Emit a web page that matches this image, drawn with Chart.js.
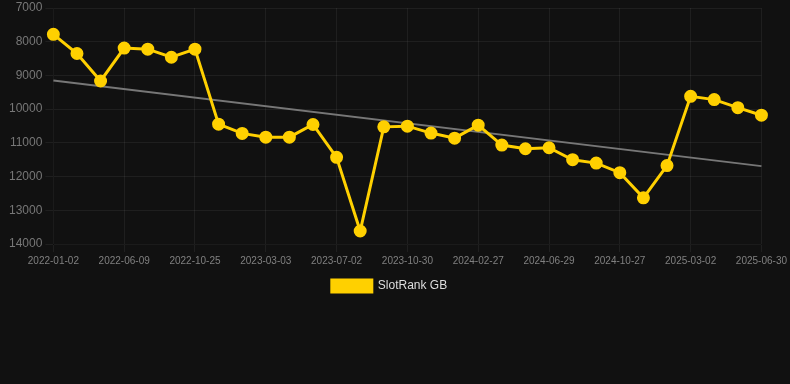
<!DOCTYPE html>
<html>
<head>
<meta charset="utf-8">
<script src="https://cdn.jsdelivr.net/npm/chart.js@4/dist/chart.umd.min.js"></script>
<style>
  html, body { margin: 0; padding: 0; background: #111111; }
  #wrap { width: 790px; height: 384px; position: relative; }
</style>
</head>
<body>
<div id="wrap"><canvas id="mycanvas"></canvas></div>
<script>
// dates on the x axis
var dates = [
    "2022-01-02", "2022-02-23", "2022-04-17", "2022-06-09", "2022-07-25", "2022-09-09",
    "2022-10-25", "2022-12-07", "2023-01-19", "2023-03-03", "2023-04-12", "2023-05-22",
    "2023-07-02", "2023-08-11", "2023-09-20", "2023-10-30", "2023-12-09", "2024-01-18",
    "2024-02-27", "2024-04-07", "2024-05-18", "2024-06-29", "2024-08-08", "2024-09-17",
    "2024-10-27", "2024-12-08", "2025-01-19", "2025-03-02", "2025-04-11", "2025-05-21",
    "2025-06-30"
];

// rank values (lower is better, axis reversed)
var rankGB = [
    7780, 8350, 9165, 8190, 8220, 8460,
    8220, 10445, 10720, 10830, 10830, 10455,
    11430, 13615, 10525, 10505, 10710, 10860,
    10475, 11065, 11175, 11145, 11500, 11600,
    11885, 12630, 11675, 9620, 9717, 9955,
    10180
];

// trend line, only the two ends
var trendStart = 9150;
var trendEnd = 11690;

var yTicks = [7000, 8000, 9000, 10000, 11000, 12000, 13000, 14000];

var trendData = [];
for (var i = 0; i < dates.length; i++) {
    trendData.push(null);
}
trendData[0] = trendStart;
trendData[dates.length - 1] = trendEnd;

Chart.defaults.font.family = 'Arial, "Liberation Sans", sans-serif';

var ctx = document.getElementById("mycanvas");

window.myGraph = new Chart(ctx, {
    type: 'line',
    data: {
        labels: dates,
        datasets: [
            {
                label: "SlotRank GB",
                data: rankGB,
                borderColor: "#FFD000",
                backgroundColor: "#FFD000",
                pointBackgroundColor: "#FFD000",
                pointBorderColor: "#FFD000",
                borderWidth: 3,
                pointRadius: 5,
                tension: 0,
                fill: false
            },
            {
                label: "trend",
                data: trendData,
                borderColor: "#777777",
                borderWidth: 2,
                pointRadius: 0,
                spanGaps: true,
                fill: false
            }
        ]
    },
    options: {
        responsive: true,
        maintainAspectRatio: false,
        animation: false,
        layout: { padding: { left: 6, right: 17, top: 0, bottom: 82 } },
        plugins: {
            legend: {
                position: 'bottom',
                labels: {
                    color: "#dddddd",
                    boxWidth: 40,
                    boxHeight: 12,
                    font: { size: 12 },
                    filter: function (item) { return item.text !== "trend"; }
                }
            },
            tooltip: { enabled: false }
        },
        scales: {
            x: {
                grid: { color: "rgba(255,255,255,0.06)" },
                ticks: {
                    color: "#808080",
                    font: { size: 10 },
                    maxRotation: 0,
                    autoSkip: true,
                    maxTicksLimit: 11
                }
            },
            y: {
                reverse: true,
                min: yTicks[0],
                max: yTicks[yTicks.length - 1],
                grid: { color: "rgba(255,255,255,0.06)" },
                afterFit: function (scale) { scale.paddingTop = 6; },
                ticks: {
                    color: "#777777",
                    font: { size: 12 },
                    stepSize: 1000,
                    callback: function (v) { return String(v); }
                }
            }
        }
    }
});
</script>
</body>
</html>
